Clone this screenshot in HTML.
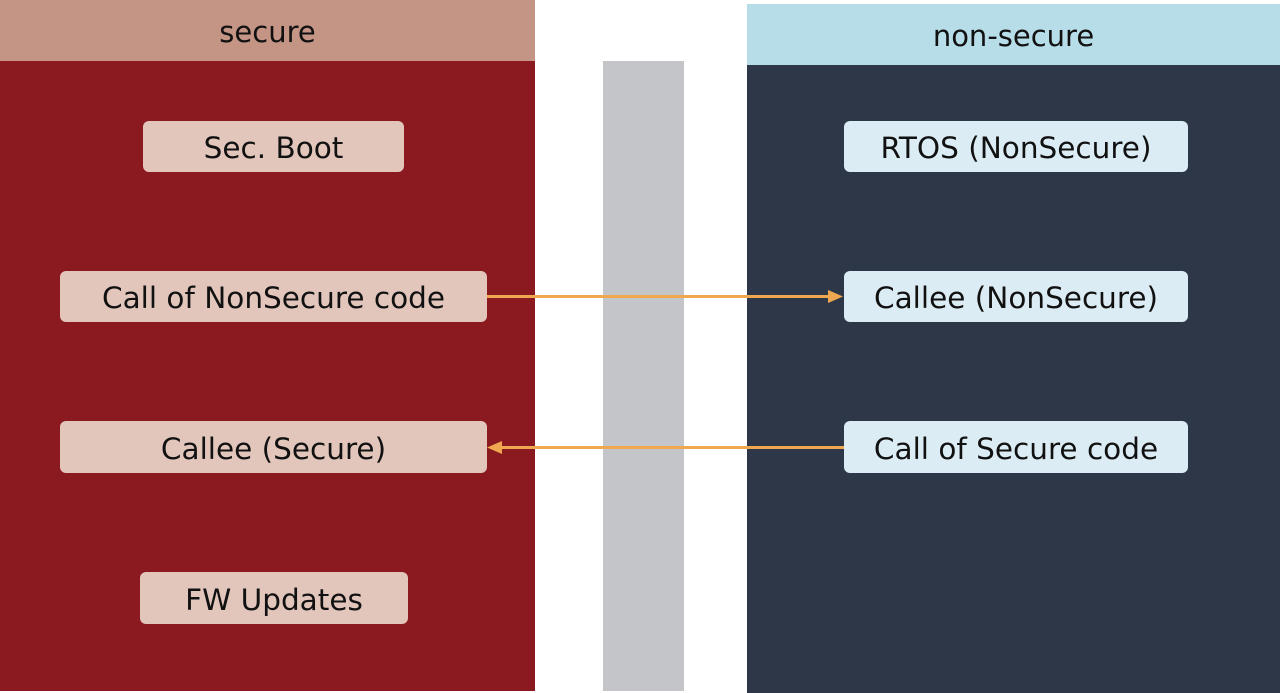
<!DOCTYPE html>
<html><head><meta charset="utf-8"><style>
body{margin:0;width:1280px;height:693px;background:#fff;position:relative;overflow:hidden;font-family:"DejaVu Sans","Liberation Sans",sans-serif}
div{position:absolute;box-sizing:border-box}
.hd{font-size:29px;color:#111;text-align:center}
.b{border-radius:6px;font-size:29.5px;color:#111;text-align:center;display:flex;align-items:center;justify-content:center;white-space:nowrap;padding-top:3px}
.l{background:#e2c6bc}
.r{background:#dcecf4}
</style></head><body>
<div class="hd" style="left:0;top:0;width:535px;height:61px;background:#c49484;line-height:64px">secure</div>
<div style="left:0;top:61px;width:535px;height:630px;background:#8b1a20"></div>
<div style="left:603px;top:61px;width:81px;height:630px;background:#c4c5c9"></div>
<div class="hd" style="left:747px;top:4px;width:533px;height:61px;background:#b7dde9;line-height:64px">non-secure</div>
<div style="left:747px;top:65px;width:533px;height:628px;background:#2d3748"></div>
<div class="b l" style="left:143px;top:121px;width:261px;height:51px">Sec. Boot</div>
<div class="b l" style="left:60px;top:271px;width:427px;height:51px">Call of NonSecure code</div>
<div class="b l" style="left:60px;top:421px;width:427px;height:52px">Callee (Secure)</div>
<div class="b l" style="left:140px;top:572px;width:268px;height:52px">FW Updates</div>
<div class="b r" style="left:844px;top:121px;width:344px;height:51px">RTOS (NonSecure)</div>
<div class="b r" style="left:844px;top:271px;width:344px;height:51px">Callee (NonSecure)</div>
<div class="b r" style="left:844px;top:421px;width:344px;height:52px">Call of Secure code</div>
<svg style="position:absolute;left:0;top:0" width="1280" height="693">
<line x1="487" y1="296.5" x2="830" y2="296.5" stroke="#f0a850" stroke-width="3"/>
<polygon points="843,296.5 828,290 828,303" fill="#f0a850"/>
<line x1="500" y1="447.5" x2="844" y2="447.5" stroke="#f0a850" stroke-width="3"/>
<polygon points="487,447.5 502,441 502,454" fill="#f0a850"/>
</svg>
</body></html>
